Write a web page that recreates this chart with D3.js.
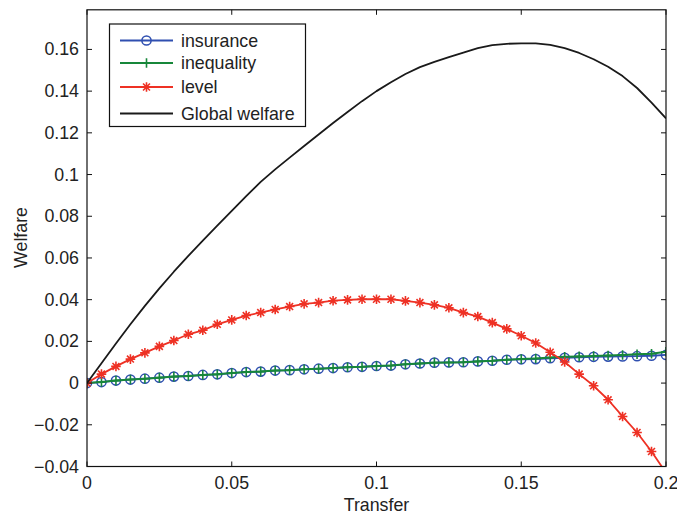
<!DOCTYPE html>
<html><head><meta charset="utf-8">
<script src="https://cdn.jsdelivr.net/npm/d3@7"></script>
<style>body{margin:0;background:#fff}svg{display:block}text{font-family:"Liberation Sans",Arial,Helvetica,sans-serif;fill:#222}</style>
</head><body>
<script>
// ---- data ----
const transfer = d3.range(0, 41).map(i => +(i * 0.005).toFixed(3));
const insurance = [0,0.0005,0.0012,0.0017,0.0021,0.0026,0.0031,0.0034,0.0039,0.0042,0.0048,0.0053,0.0055,0.0060,0.0062,0.0066,0.0069,0.0072,0.0076,0.0078,0.0082,0.0084,0.0090,0.0094,0.0098,0.0099,0.0100,0.0104,0.0107,0.0112,0.0114,0.0115,0.0119,0.0121,0.0124,0.0126,0.0127,0.0128,0.0129,0.0131,0.0135];
const inequality = [0,0.0005,0.0012,0.0017,0.0021,0.0026,0.0031,0.0034,0.0039,0.0042,0.0048,0.0053,0.0055,0.0060,0.0062,0.0066,0.0069,0.0072,0.0076,0.0078,0.0082,0.0084,0.0090,0.0094,0.0098,0.0099,0.0100,0.0104,0.0107,0.0112,0.0115,0.0118,0.0123,0.0126,0.0128,0.0130,0.0132,0.0135,0.0138,0.0141,0.0150];
const level = [0,0.0043,0.0080,0.0115,0.0145,0.0176,0.0204,0.0234,0.0253,0.0282,0.0303,0.0324,0.0338,0.0353,0.0367,0.0380,0.0386,0.0395,0.0399,0.0402,0.0402,0.0402,0.0394,0.0386,0.0375,0.0361,0.0338,0.0319,0.0290,0.0260,0.0227,0.0192,0.0148,0.0101,0.0043,-0.0013,-0.0080,-0.0160,-0.0237,-0.0328,-0.0430];
const globalWelfare = [0,0.0095,0.0190,0.0282,0.0370,0.0454,0.0534,0.0610,0.0683,0.0755,0.0826,0.0897,0.0965,0.1025,0.1081,0.1137,0.1192,0.1247,0.1300,0.1352,0.1400,0.1443,0.1482,0.1515,0.1540,0.1563,0.1585,0.1606,0.1621,0.1627,0.1629,0.1629,0.1622,0.1606,0.1583,0.1553,0.1517,0.1472,0.1415,0.1345,0.1269];
const xTicks = [0, 0.05, 0.1, 0.15, 0.2];
const xTickLabels = ["0", "0.05", "0.1", "0.15", "0.2"];
const yTicks = [-0.04, -0.02, 0, 0.02, 0.04, 0.06, 0.08, 0.1, 0.12, 0.14, 0.16];
const yTickLabels = ["\u22120.04", "\u22120.02", "0", "0.02", "0.04", "0.06", "0.08", "0.1", "0.12", "0.14", "0.16"];
const seriesNames = ["insurance", "inequality", "level", "Global welfare"];

// ---- layout ----
const W = 677, H = 516;
const L = 87, R = 666, T = 9.8, B = 466.5;
const svg = d3.select("body").append("svg").attr("width", W).attr("height", H);
const x = d3.scaleLinear().domain([0, 0.2]).range([L, R]);
const y = d3.scaleLinear().domain([-0.04, 0.179]).range([B, T]);
const FS = 17.8;

svg.append("defs").append("clipPath").attr("id", "clip")
  .append("rect").attr("x", L).attr("y", T).attr("width", R - L).attr("height", B - T);

const colors = {insurance: "#2f4fb0", inequality: "#17873a", level: "#ee3124", global: "#1a1a1a"};

// marker drawers
function circleM(g, cx, cy, c) {
  g.append("circle").attr("cx", cx).attr("cy", cy).attr("r", 4.6).attr("fill", "none").attr("stroke", c).attr("stroke-width", 1.5);
}
function plusM(g, cx, cy, c) {
  const s = 4.8;
  g.append("path").attr("d", `M${cx - s},${cy}H${cx + s}M${cx},${cy - s}V${cy + s}`).attr("stroke", c).attr("stroke-width", 1.6).attr("fill", "none");
}
function starM(g, cx, cy, c) {
  const s = 4.8, d = s * 0.72;
  g.append("path").attr("d", `M${cx - s},${cy}H${cx + s}M${cx},${cy - s}V${cy + s}M${cx - d},${cy - d}L${cx + d},${cy + d}M${cx - d},${cy + d}L${cx + d},${cy - d}`)
    .attr("stroke", c).attr("stroke-width", 1.6).attr("fill", "none");
}

const line = d3.line().x(d => x(d[0])).y(d => y(d[1]));
const plot = svg.append("g").attr("clip-path", "url(#clip)");

function series(vals, c, marker, lw) {
  const pts = transfer.map((t, i) => [t, vals[i]]);
  plot.append("path").attr("d", line(pts)).attr("fill", "none").attr("stroke", c).attr("stroke-width", lw).attr("stroke-linejoin", "round");
  if (marker) pts.forEach(p => marker(plot, x(p[0]), y(p[1]), c));
}
series(insurance, colors.insurance, circleM, 1.8);
series(inequality, colors.inequality, plusM, 2);
series(level, colors.level, starM, 1.8);
series(globalWelfare, colors.global, null, 1.8);

// axes box
const ax = svg.append("g");
ax.append("rect").attr("x", L).attr("y", T).attr("width", R - L).attr("height", B - T)
  .attr("fill", "none").attr("stroke", "#111").attr("stroke-width", 1.2);
const tl = 5;
xTicks.forEach((t, i) => {
  const px = x(t);
  ax.append("line").attr("x1", px).attr("x2", px).attr("y1", B).attr("y2", B - tl).attr("stroke", "#111");
  ax.append("line").attr("x1", px).attr("x2", px).attr("y1", T).attr("y2", T + tl).attr("stroke", "#111");
  ax.append("text").attr("x", px).attr("y", 488.5).attr("text-anchor", "middle").attr("font-size", FS).text(xTickLabels[i]);
});
yTicks.forEach((t, i) => {
  const py = y(t);
  ax.append("line").attr("x1", L).attr("x2", L + tl).attr("y1", py).attr("y2", py).attr("stroke", "#111");
  ax.append("line").attr("x1", R).attr("x2", R - tl).attr("y1", py).attr("y2", py).attr("stroke", "#111");
  ax.append("text").attr("x", 79).attr("y", py + 6).attr("text-anchor", "end").attr("font-size", FS).text(yTickLabels[i]);
});
svg.append("text").attr("x", 376.5).attr("y", 511).attr("text-anchor", "middle").attr("font-size", FS).text("Transfer");
svg.append("text").attr("transform", "translate(27,237.5) rotate(-90)").attr("text-anchor", "middle").attr("font-size", FS).text("Welfare");

// legend
const lg = svg.append("g");
lg.append("rect").attr("x", 109.5).attr("y", 24).attr("width", 196).attr("height", 102.5)
  .attr("fill", "#fff").attr("stroke", "#111").attr("stroke-width", 1.2);
const legendY = [40.5, 63, 87, 113.5];
const legendC = [colors.insurance, colors.inequality, colors.level, colors.global];
const legendM = [circleM, plusM, starM, null];
seriesNames.forEach((n, i) => {
  const ly = legendY[i];
  lg.append("line").attr("x1", 120).attr("x2", 173).attr("y1", ly).attr("y2", ly).attr("stroke", legendC[i]).attr("stroke-width", i === 1 ? 2 : 1.8);
  if (legendM[i]) legendM[i](lg, 146.5, ly, legendC[i]);
  lg.append("text").attr("x", 181).attr("y", ly + 6).attr("font-size", FS).text(n);
});
</script>
</body></html>
